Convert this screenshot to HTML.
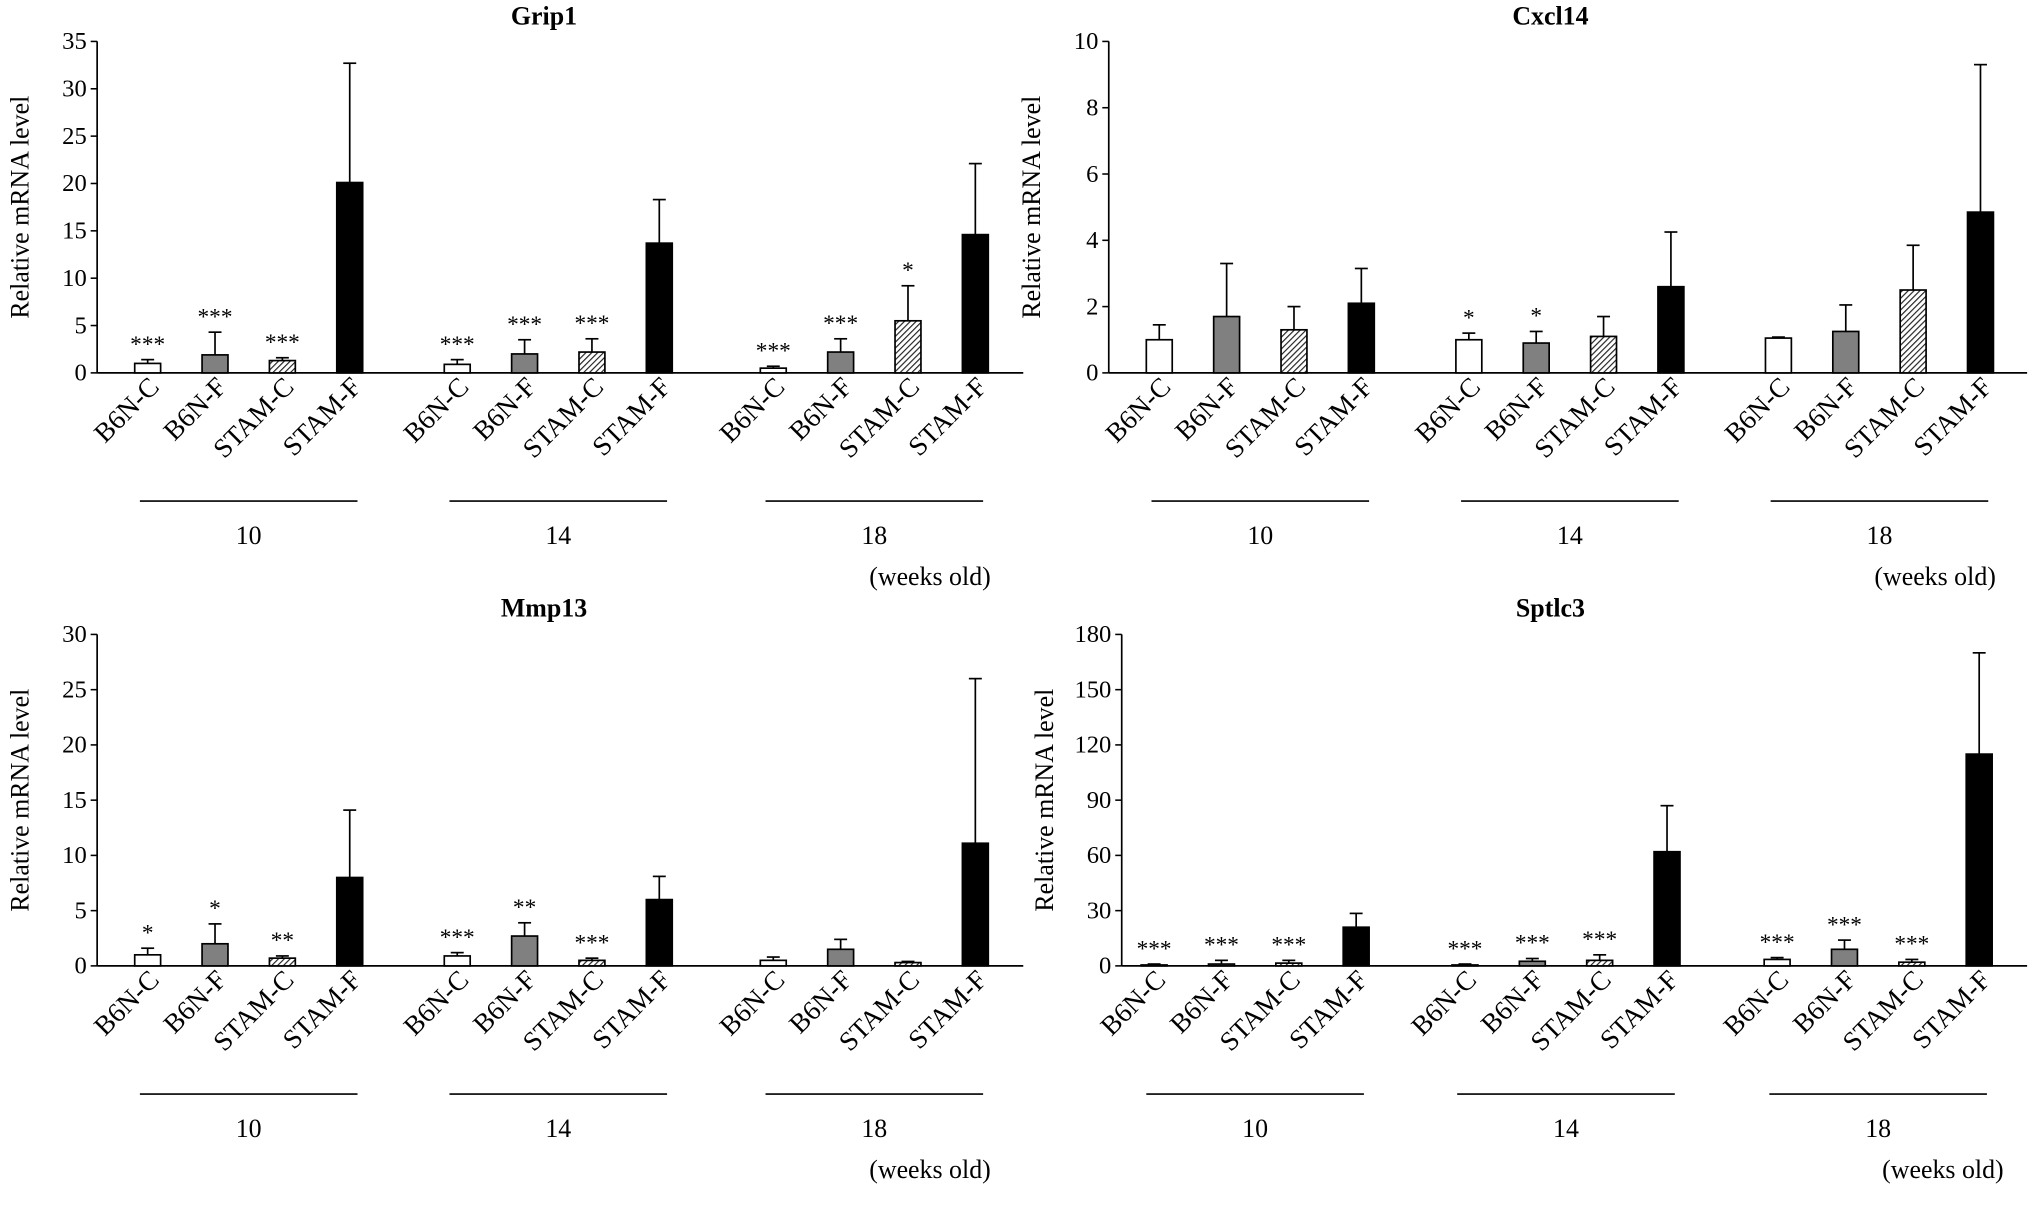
<!DOCTYPE html>
<html><head><meta charset="utf-8"><style>
html,body{margin:0;padding:0;background:#fff}
svg{display:block}
text{font-family:"Liberation Serif",serif;fill:#000}
</style></head><body>
<svg id="chart" width="2031" height="1208" viewBox="0 0 1568 933" preserveAspectRatio="none" xmlns="http://www.w3.org/2000/svg">
<defs>
<pattern id="hatch" patternUnits="userSpaceOnUse" width="3.2" height="3.2" patternTransform="rotate(45)">
<rect width="3.2" height="3.2" fill="#fff"/><line x1="0" y1="0" x2="0" y2="3.2" stroke="#222" stroke-width="1.8"/>
</pattern>
</defs>
</svg>
<script>
const categories=["B6N-C","B6N-F","STAM-C","STAM-F"];
const weeks=["10","14","18"];
const grip1Means=[[1.0,1.9,1.3,20.1],[0.9,2.0,2.2,13.7],[0.5,2.2,5.5,14.6]];
const grip1Errs=[[0.4,2.4,0.3,12.6],[0.5,1.5,1.4,4.6],[0.2,1.4,3.7,7.5]];
const grip1Stars=[["***","***","***",""],["***","***","***",""],["***","***","*",""]];
const cxclMeans=[[1.0,1.7,1.3,2.1],[1.0,0.9,1.1,2.6],[1.05,1.25,2.5,4.85]];
const cxclErrs=[[0.45,1.6,0.7,1.05],[0.2,0.35,0.6,1.65],[0.03,0.8,1.35,4.45]];
const cxclStars=[["","","",""],["*","*","",""],["","","",""]];
const mmpMeans=[[1.0,2.0,0.7,8.0],[0.9,2.7,0.5,6.0],[0.5,1.5,0.3,11.1]];
const mmpErrs=[[0.6,1.8,0.2,6.1],[0.3,1.2,0.2,2.1],[0.3,0.9,0.1,14.9]];
const mmpStars=[["*","*","**",""],["***","**","***",""],["","","",""]];
const sptMeans=[[0.5,1,1.5,21],[0.5,2.5,3,62],[3.5,9,2,115]];
const sptErrs=[[0.5,2,1.5,7.5],[0.5,1.5,3,25],[1,5,1.5,55]];
const sptStars=[["***","***","***",""],["***","***","***",""],["***","***","***",""]];
const grip1Ticks=[0,5,10,15,20,25,30,35];
const cxclTicks=[0,2,4,6,8,10];
const mmpTicks=[0,5,10,15,20,25,30];
const sptTicks=[0,30,60,90,120,150,180];

const svg=document.getElementById('chart');
const NS="http://www.w3.org/2000/svg";
function mk(tag,attrs,parent,txt){const e=document.createElementNS(NS,tag);for(const k in attrs)e.setAttribute(k,attrs[k]);if(txt!==undefined)e.textContent=txt;(parent||svg).appendChild(e);return e;}
const fills=["#fff","#808080","url(#hatch)","#000"];

function panel(o){
  const g=mk('g',{});
  
  
  const max=o.ticks[o.ticks.length-1];
  const y=v=>o.y0-(v/max)*(o.y0-o.yTop);
  const ax=mk('line',{x1:o.ax,y1:o.yTop,x2:o.ax,y2:o.y0,stroke:'#000','stroke-width':1.3},g);
  
  const bx=mk('line',{x1:o.ax,y1:o.y0,x2:o.axEnd,y2:o.y0,stroke:'#000','stroke-width':1.3},g);
  
  o.ticks.forEach(t=>{
    mk('line',{x1:o.ax-5,y1:y(t),x2:o.ax,y2:y(t),stroke:'#000','stroke-width':1.2},g);
    const tl=mk('text',{x:o.ax-8,y:y(t)+6,'text-anchor':'end','font-size':19},g,String(t));
    
  });
  const yt=mk('text',{x:0,y:0,transform:`translate(${o.ax-53},${(o.y0+o.yTop)/2}) rotate(-90)`,'text-anchor':'middle','font-size':20},g,'Relative mRNA level');
  
  const ti=mk('text',{x:o.titleX,y:o.titleY,'text-anchor':'middle','font-size':20,'font-weight':'bold'},g,o.name);
  
  weeks.forEach((w,gi)=>{
    const gx=o.groupX[gi];
    categories.forEach((c,ci)=>{
      const cx=gx+ci*52;const m=o.means[gi][ci],e=o.errs[gi][ci];
      const top=y(e+m);
      mk('line',{x1:cx,y1:y(m),x2:cx,y2:top,stroke:'#000','stroke-width':1.3},g);
      mk('line',{x1:cx-5,y1:top,x2:cx+5,y2:top,stroke:'#000','stroke-width':1.3},g);
      const b=mk('rect',{x:cx-10,y:y(m),width:20,height:o.y0-y(m),fill:fills[ci],stroke:'#000','stroke-width':1.3},g);
      
      
      if(o.stars[gi][ci]){const s=mk('text',{x:cx,y:top-6,'text-anchor':'middle','font-size':18},g,o.stars[gi][ci]);
        }
      const l=mk('text',{x:0,y:0,transform:`translate(${cx+10},${o.y0+12}) rotate(-45)`,'text-anchor':'end','font-size':21},g,c);
      
    });
    mk('line',{x1:gx-6,y1:o.y0+99,x2:gx+162,y2:o.y0+99,stroke:'#000','stroke-width':1.2},g);
    const wl=mk('text',{x:gx+78,y:o.y0+132,'text-anchor':'middle','font-size':20},g,w);
    
  });
  const wo=mk('text',{x:o.weeksX,y:o.y0+164,'text-anchor':'middle','font-size':20},g,'(weeks old)');
  
}
panel({name:'Grip1',ax:75,axEnd:790,y0:288,yTop:32,ticks:grip1Ticks,means:grip1Means,errs:grip1Errs,stars:grip1Stars,groupX:[114,353,597],titleX:420,titleY:19,weeksX:718});
panel({name:'Cxcl14',ax:856,axEnd:1565,y0:288,yTop:32,ticks:cxclTicks,means:cxclMeans,errs:cxclErrs,stars:cxclStars,groupX:[895,1134,1373],titleX:1197,titleY:19,weeksX:1494});
panel({name:'Mmp13',ax:75,axEnd:790,y0:746,yTop:490,ticks:mmpTicks,means:mmpMeans,errs:mmpErrs,stars:mmpStars,groupX:[114,353,597],titleX:420,titleY:476,weeksX:718});
panel({name:'Sptlc3',ax:866,axEnd:1565,y0:746,yTop:490,ticks:sptTicks,means:sptMeans,errs:sptErrs,stars:sptStars,groupX:[891,1131,1372],titleX:1197,titleY:476,weeksX:1500});
</script>
</body></html>
